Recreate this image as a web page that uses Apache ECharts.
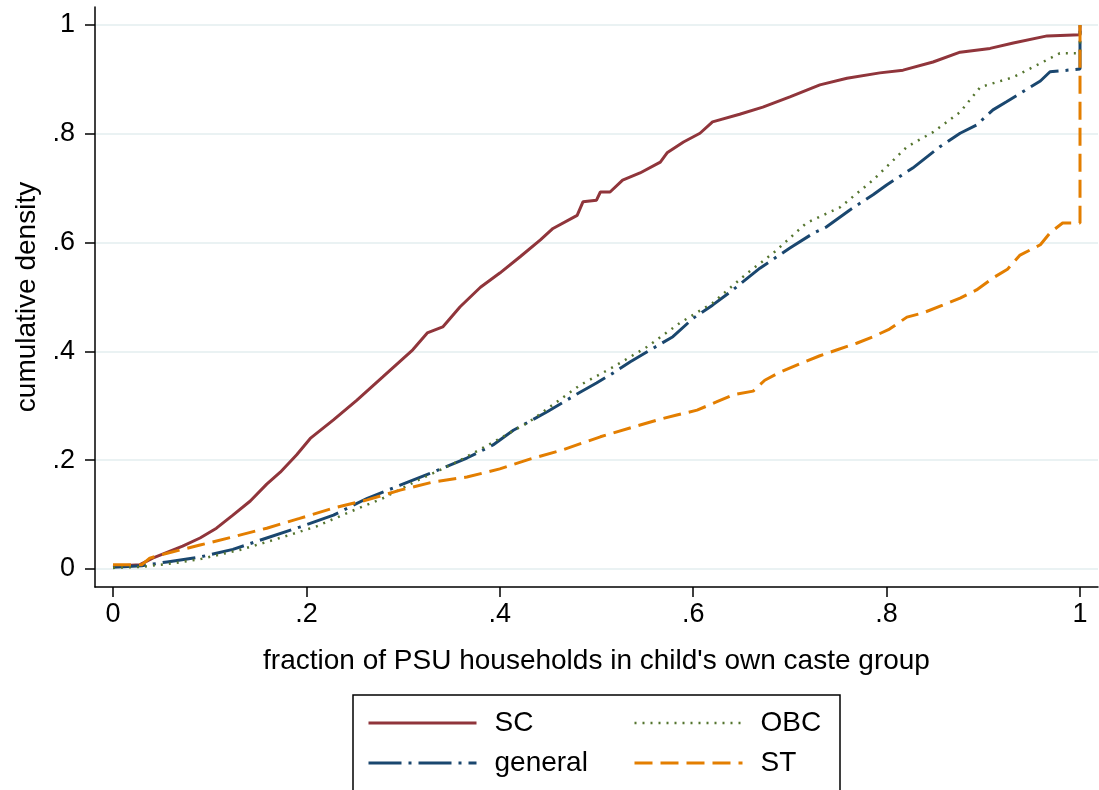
<!DOCTYPE html>
<html>
<head>
<meta charset="utf-8">
<script src="https://cdn.jsdelivr.net/npm/echarts@6/dist/echarts.min.js"></script>
<style>html,body{margin:0;padding:0;background:#fff}#c{width:1099px;height:790px}</style>
</head>
<body>
<div id="c"></div>
<script>
// ---- data ----
const tickValues = [0, 0.2, 0.4, 0.6, 0.8, 1];
const tickLabels = ['0', '.2', '.4', '.6', '.8', '1'];
const seriesNames = ['SC', 'general', 'OBC', 'ST'];

const scData = [[0,0.005],[0.028,0.008],[0.041,0.02],[0.072,0.042],[0.09,0.057],[0.107,0.075],[0.124,0.099],[0.142,0.125],[0.159,0.156],[0.173,0.178],[0.19,0.21],[0.204,0.24],[0.228,0.274],[0.252,0.31],[0.279,0.353],[0.31,0.403],[0.325,0.434],[0.341,0.445],[0.359,0.482],[0.38,0.518],[0.4,0.544],[0.421,0.574],[0.442,0.605],[0.455,0.626],[0.48,0.65],[0.486,0.675],[0.5,0.678],[0.504,0.693],[0.514,0.693],[0.527,0.715],[0.545,0.728],[0.566,0.748],[0.573,0.765],[0.59,0.785],[0.607,0.801],[0.62,0.822],[0.648,0.836],[0.672,0.849],[0.7,0.868],[0.731,0.89],[0.759,0.902],[0.793,0.912],[0.817,0.917],[0.848,0.932],[0.876,0.95],[0.907,0.957],[0.931,0.967],[0.966,0.98],[1,0.982],[1,1]];

const generalData = [[0,0.003],[0.03,0.006],[0.056,0.013],[0.09,0.022],[0.124,0.036],[0.159,0.057],[0.193,0.077],[0.228,0.099],[0.263,0.13],[0.297,0.154],[0.331,0.178],[0.366,0.204],[0.393,0.228],[0.414,0.255],[0.449,0.289],[0.483,0.325],[0.5,0.342],[0.517,0.36],[0.535,0.381],[0.552,0.399],[0.579,0.427],[0.6,0.461],[0.62,0.485],[0.641,0.513],[0.669,0.553],[0.7,0.59],[0.724,0.617],[0.738,0.629],[0.762,0.66],[0.786,0.688],[0.8,0.706],[0.827,0.737],[0.855,0.776],[0.876,0.801],[0.893,0.816],[0.91,0.844],[0.924,0.859],[0.959,0.897],[0.969,0.914],[1,0.919],[1,1]];

const obcData = [[0,0.002],[0.03,0.004],[0.06,0.01],[0.09,0.018],[0.131,0.035],[0.169,0.055],[0.21,0.078],[0.245,0.105],[0.279,0.13],[0.314,0.162],[0.356,0.197],[0.39,0.23],[0.43,0.27],[0.483,0.338],[0.517,0.371],[0.552,0.408],[0.586,0.452],[0.62,0.489],[0.656,0.544],[0.683,0.581],[0.717,0.636],[0.752,0.665],[0.786,0.715],[0.821,0.776],[0.848,0.803],[0.876,0.84],[0.897,0.886],[0.931,0.904],[0.966,0.936],[0.979,0.948],[1,0.948],[1,1]];

const stData = [[0,0.008],[0.03,0.008],[0.038,0.02],[0.056,0.029],[0.09,0.044],[0.124,0.059],[0.159,0.075],[0.193,0.093],[0.228,0.112],[0.263,0.127],[0.297,0.145],[0.331,0.16],[0.366,0.169],[0.4,0.184],[0.431,0.202],[0.465,0.219],[0.504,0.243],[0.538,0.261],[0.563,0.274],[0.583,0.283],[0.604,0.292],[0.624,0.307],[0.641,0.32],[0.662,0.327],[0.674,0.347],[0.69,0.362],[0.71,0.377],[0.731,0.392],[0.749,0.403],[0.769,0.415],[0.786,0.427],[0.803,0.441],[0.821,0.463],[0.838,0.471],[0.858,0.485],[0.876,0.498],[0.893,0.513],[0.91,0.535],[0.925,0.551],[0.938,0.577],[0.959,0.596],[0.969,0.618],[0.982,0.636],[1,0.636],[1,1]];

// ---- chart ----
const FONT = '"Liberation Sans", Arial, Helvetica, sans-serif';
const fmt = v => { const i = tickValues.findIndex(t => Math.abs(t - v) < 1e-9); return i >= 0 ? tickLabels[i] : ''; };

const styles = {
  SC: {color: '#90353b', width: 3, type: 'solid'},
  general: {color: '#1a476f', width: 3, type: [33, 7, 3, 7]},
  OBC: {color: '#55752f', width: 2.5, type: [2, 6]},
  ST: {color: '#e37e00', width: 3, type: [18, 8]}
};

const chart = echarts.init(document.getElementById('c'), null, {renderer: 'canvas'});
const axisCommon = {
  type: 'value',
  nameLocation: 'middle',
  nameTextStyle: {fontFamily: FONT, fontSize: 28, color: '#000'},
  axisLine: {show: true, onZero: false, lineStyle: {color: '#000', width: 1.5}},
  axisTick: {show: true, length: 10, customValues: tickValues, lineStyle: {color: '#000', width: 1.5}},
  axisLabel: {customValues: tickValues, formatter: fmt, fontFamily: FONT, fontSize: 27, color: '#000'},
  minorTick: {show: false}
};

const legendItem = n => ({name: n, lineStyle: {color: styles[n].color, width: styles[n].width, type: styles[n].type}});
const legendCommon = {
  orient: 'vertical', top: 708, padding: 0,
  itemWidth: 108, itemHeight: 14, itemGap: 10,
  itemStyle: {opacity: 0},
  textStyle: {fontFamily: FONT, fontSize: 28, color: '#000', lineHeight: 30, padding: [0, 0, 0, 13]}
};

const option = {
  backgroundColor: '#fff',
  animation: false,
  grid: {left: 95, right: 1, top: 7, bottom: 203, containLabel: false},
  xAxis: Object.assign({}, axisCommon, {
    min: -0.0186, max: 1.0186,
    name: "fraction of PSU households in child's own caste group",
    nameGap: 60,
    splitLine: {show: false},
    axisLabel: Object.assign({}, axisCommon.axisLabel, {margin: 14})
  }),
  yAxis: Object.assign({}, axisCommon, {
    min: -0.0331, max: 1.0331,
    name: 'cumulative density',
    nameGap: 52,
    splitLine: {show: true, lineStyle: {color: '#eaf2f3', width: 2}},
    axisLabel: Object.assign({}, axisCommon.axisLabel, {margin: 20})
  }),
  legend: [
    Object.assign({}, legendCommon, {left: 367, data: ['SC', 'general'].map(legendItem)}),
    Object.assign({}, legendCommon, {left: 633, data: ['OBC', 'ST'].map(legendItem)})
  ],
  graphic: [{type: 'rect', shape: {x: 353, y: 695, width: 487, height: 120},
             style: {fill: 'none', stroke: '#000', lineWidth: 1.5}, silent: true}],
  series: [
    {name: 'SC', data: scData},
    {name: 'general', data: generalData},
    {name: 'OBC', data: obcData},
    {name: 'ST', data: stData}
  ].map(s => ({
    name: s.name, type: 'line', data: s.data, showSymbol: false, symbol: 'none',
    lineStyle: styles[s.name], itemStyle: {color: styles[s.name].color}
  }))
};
chart.setOption(option);
</script>
</body>
</html>
